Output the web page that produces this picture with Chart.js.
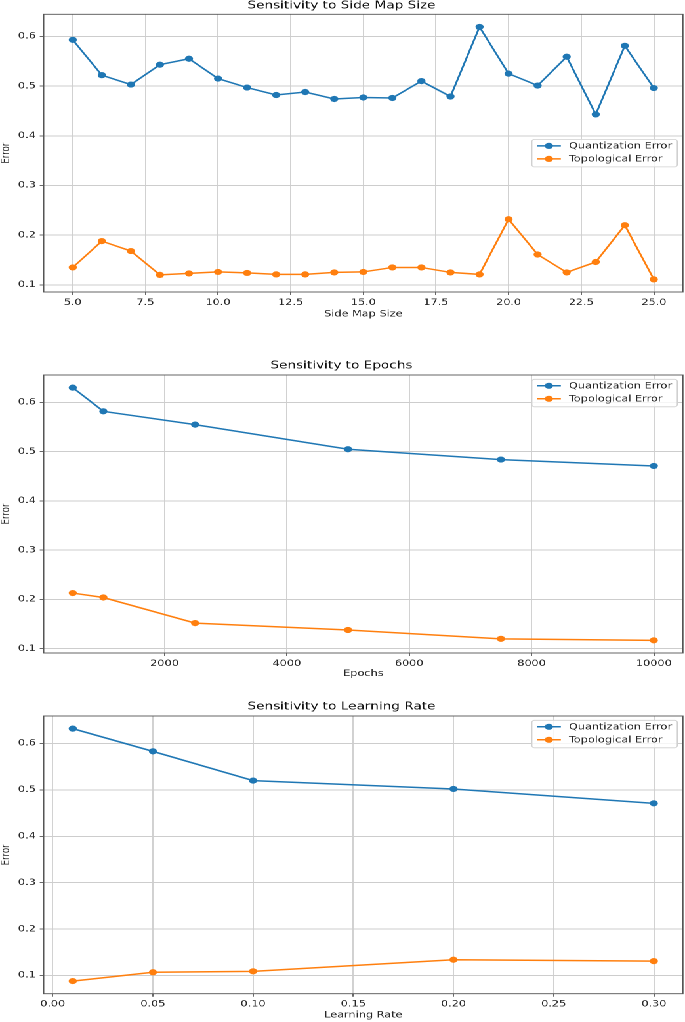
<!DOCTYPE html>
<html>
<head>
<meta charset="utf-8">
<script src="https://cdn.jsdelivr.net/npm/chart.js@4"></script>
<style>
  html, body { margin: 0; padding: 0; background: #fff; }
  body { width: 685px; height: 1022px; overflow: hidden; }
  #stage { position: relative; width: 522px; height: 1022px; transform: scaleX(1.3123); transform-origin: 0 0; }
  #stage canvas { position: absolute; left: 0; }
</style>
</head>
<body>
<div id="stage">
  <canvas id="sideChart" width="522" height="325" style="top:0px"></canvas>
  <canvas id="epochChart" width="522" height="360" style="top:330px"></canvas>
  <canvas id="lrChart" width="522" height="332" style="top:690px"></canvas>
</div>
<script>
// Side map size
const sideSizes = [5, 6, 7, 8, 9, 10, 11, 12, 13, 14, 15, 16, 17, 18, 19, 20, 21, 22, 23, 24, 25];
const sideQE = [0.593, 0.522, 0.503, 0.543, 0.555, 0.515, 0.497, 0.482, 0.488, 0.474, 0.477, 0.476, 0.510, 0.479, 0.619, 0.525, 0.501, 0.559, 0.443, 0.581, 0.496];
const sideTE = [0.135, 0.188, 0.168, 0.120, 0.123, 0.126, 0.124, 0.121, 0.121, 0.125, 0.126, 0.135, 0.135, 0.125, 0.121, 0.232, 0.161, 0.125, 0.146, 0.220, 0.111];
const sideTicks = [5, 7.5, 10, 12.5, 15, 17.5, 20, 22.5, 25];

// Epochs
const epochs = [500, 1000, 2500, 5000, 7500, 10000];
const epochQE = [0.630, 0.582, 0.555, 0.505, 0.484, 0.471];
const epochTE = [0.213, 0.204, 0.152, 0.138, 0.120, 0.117];
const epochTicks = [2000, 4000, 6000, 8000, 10000];

// Learning rate
const rates = [0.01, 0.05, 0.1, 0.2, 0.3];
const rateQE = [0.632, 0.583, 0.520, 0.502, 0.471];
const rateTE = [0.088, 0.107, 0.109, 0.134, 0.131];
const rateTicks = [0, 0.05, 0.1, 0.15, 0.2, 0.25, 0.3];

const errorTicks = [0.1, 0.2, 0.3, 0.4, 0.5, 0.6];

const blue = '#1f77b4';
const orange = '#ff7f0e';
const font = 'DejaVu Sans';

Chart.defaults.font.family = font;
Chart.defaults.font.size = 8.6;
Chart.defaults.color = '#262626';

// matplotlib-style frame round the plot area
const frame = {
  id: 'frame',
  afterDraw(chart) {
    const { ctx, chartArea: a } = chart;
    ctx.save();
    ctx.strokeStyle = '#555';
    ctx.lineWidth = 0.9;
    ctx.strokeRect(a.left, a.top, a.right - a.left, a.bottom - a.top);
    ctx.restore();
  }
};

// legend box inside the plot area
const innerLegend = {
  id: 'innerLegend',
  afterDraw(chart, args, opts) {
    const { ctx, chartArea: a } = chart;
    const sets = chart.data.datasets;
    ctx.save();
    ctx.font = '8.6px "' + font + '"';
    const tw = Math.max(...sets.map(d => ctx.measureText(d.label).width));
    const w = 3.8 + 18.3 + 6.1 + tw + 4;
    const h = 27.5;
    const x = a.right - 4.3 - w;
    const y = opts.loc === 'center' ? (a.top + a.bottom) / 2 - h / 2 : a.top + 4.3;
    ctx.beginPath();
    ctx.roundRect(x, y, w, h, 2);
    ctx.fillStyle = 'rgba(255,255,255,0.8)';
    ctx.fill();
    ctx.strokeStyle = '#d0d0d0';
    ctx.lineWidth = 0.8;
    ctx.stroke();
    sets.forEach((d, i) => {
      const cy = y + 6.5 + i * 13;
      ctx.strokeStyle = d.borderColor;
      ctx.lineWidth = 1.5;
      ctx.beginPath();
      ctx.moveTo(x + 3.8, cy);
      ctx.lineTo(x + 3.8 + 18.3, cy);
      ctx.stroke();
      ctx.fillStyle = d.borderColor;
      ctx.beginPath();
      ctx.arc(x + 3.8 + 9.15, cy, 3.1, 0, Math.PI * 2);
      ctx.fill();
      ctx.fillStyle = '#262626';
      ctx.textBaseline = 'middle';
      ctx.fillText(d.label, x + 3.8 + 18.3 + 6.1, cy + 0.5);
    });
    ctx.restore();
  }
};

function makeChart(id, cfg) {
  const pts = (xs, ys) => xs.map((x, i) => ({ x: x, y: ys[i] }));
  const line = (label, xs, ys, color) => ({
    label: label,
    data: pts(xs, ys),
    borderColor: color,
    backgroundColor: color,
    borderWidth: 1.5,
    pointRadius: 3.1,
    pointBorderWidth: 0,
    tension: 0
  });
  const grid = { color: '#cdcdcd', lineWidth: 0.9, tickColor: '#444', tickLength: 3, tickWidth: 0.8 };
  return new Chart(document.getElementById(id), {
    type: 'line',
    data: {
      datasets: [
        line('Quantization Error', cfg.xs, cfg.qe, blue),
        line('Topological Error', cfg.xs, cfg.te, orange)
      ]
    },
    plugins: [frame, innerLegend],
    options: {
      responsive: false,
      animation: false,
      devicePixelRatio: 2,
      layout: { autoPadding: false, padding: { left: 0, right: 1.6, top: 0, bottom: 0 } },
      plugins: {
        legend: { display: false },
        tooltip: { enabled: false },
        title: {
          display: true,
          text: cfg.title,
          color: '#111',
          font: { size: 10.4, weight: 'normal', lineHeight: 1 },
          padding: { top: cfg.titleTop, bottom: cfg.titleBottom }
        },
        innerLegend: { loc: cfg.legendLoc }
      },
      scales: {
        x: {
          type: 'linear',
          min: cfg.xMin,
          max: cfg.xMax,
          afterBuildTicks: s => { s.ticks = cfg.xTicks.map(v => ({ value: v })); },
          afterFit: s => { s.height = cfg.xHeight; s.paddingLeft = 0; s.paddingRight = 0; },
          ticks: { callback: v => v.toFixed(cfg.xDigits), padding: 2.5, maxRotation: 0, autoSkip: false },
          grid: grid,
          border: { display: false },
          title: {
            display: true,
            text: cfg.xLabel,
            font: { size: 8.6, lineHeight: 1 },
            padding: { top: 0, bottom: cfg.xTitleBottom }
          }
        },
        y: {
          min: cfg.yMin,
          max: cfg.yMax,
          afterBuildTicks: s => { s.ticks = errorTicks.map(v => ({ value: v })); },
          afterFit: s => { s.width = 33.3; s.paddingTop = 0; s.paddingBottom = 0; },
          ticks: { callback: v => v.toFixed(1), padding: 3 },
          grid: grid,
          border: { display: false },
          title: {
            display: true,
            text: 'Error',
            font: { size: 8.6, lineHeight: 1 },
            padding: { top: 0.7, bottom: 0 }
          }
        }
      }
    }
  });
}

makeChart('sideChart', {
  title: 'Sensitivity to Side Map Size', xLabel: 'Side Map Size',
  xs: sideSizes, qe: sideQE, te: sideTE, xTicks: sideTicks, xDigits: 1,
  xMin: 4, xMax: 26, yMin: 0.0856, yMax: 0.6444,
  titleTop: 0.8, titleBottom: 3.1, xHeight: 33, xTitleBottom: 6.2, legendLoc: 'center'
});

makeChart('epochChart', {
  title: 'Sensitivity to Epochs', xLabel: 'Epochs',
  xs: epochs, qe: epochQE, te: epochTE, xTicks: epochTicks, xDigits: 0,
  xMin: 25, xMax: 10475, yMin: 0.0913, yMax: 0.6557,
  titleTop: 30.8, titleBottom: 3.8, xHeight: 37, xTitleBottom: 11.7, legendLoc: 'upper'
});

makeChart('lrChart', {
  title: 'Sensitivity to Learning Rate', xLabel: 'Learning Rate',
  xs: rates, qe: rateQE, te: rateTE, xTicks: rateTicks, xDigits: 2,
  xMin: -0.0045, xMax: 0.3145, yMin: 0.0608, yMax: 0.6592,
  titleTop: 11.5, titleBottom: 4.1, xHeight: 28.3, xTitleBottom: 2.4, legendLoc: 'upper'
});
</script>
</body>
</html>
